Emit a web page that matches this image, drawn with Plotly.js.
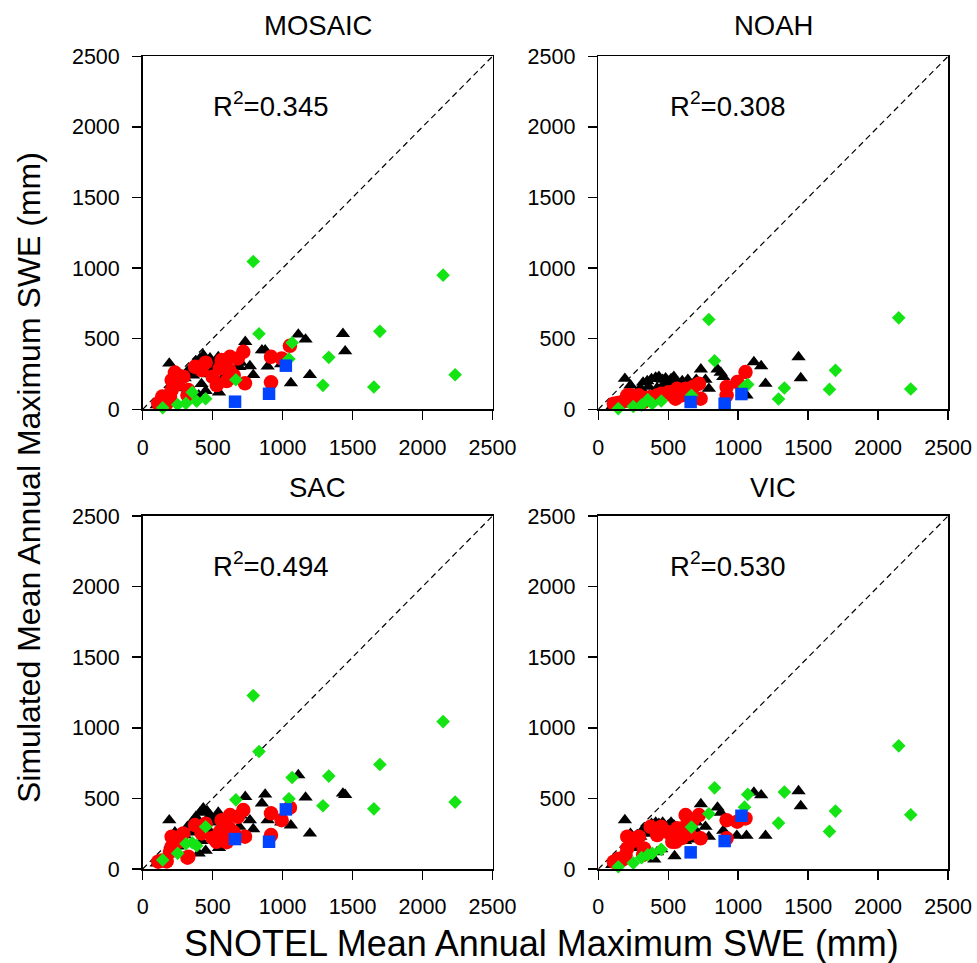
<!DOCTYPE html>
<html>
<head>
<meta charset="utf-8">
<script src="https://cdn.plot.ly/plotly-3.0.1.min.js"></script>
<style>html,body{margin:0;padding:0;background:#fff;}#chart{width:977px;height:963px;}</style>
</head>
<body>
<div id="chart"></div>
<script>
// ---------- DATA ----------
const models = ["MOSAIC", "NOAH", "SAC", "VIC"];
const r2Labels = ["0.345", "0.308", "0.494", "0.530"];
const tickVals = [0, 500, 1000, 1500, 2000, 2500];
const tickText = ["0", "500", "1000", "1500", "2000", "2500"];

// Black triangles: SNOTEL x, simulated y per model
const triX = [1112,1164,1431,1447,1195,1059,852,875,893,990,733,766,790,690,545,400,190,300,350,380,410,433,460,481,500,520,560,600,640,680,250,150,100,420,450,620,700,360,320,470,540,580,230];
const triMOSAIC = [530,495,535,412,243,186,419,419,304,320,478,306,243,301,120,100,325,220,300,340,360,384,340,361,300,330,280,310,260,200,150,60,30,180,130,210,330,240,270,250,370,230,250];
const triNOAH   = [335,306,370,221,181,99,283,260,229,200,283,210,146,190,90,70,217,150,200,215,225,230,210,220,195,215,190,200,210,160,100,50,20,150,110,120,210,160,190,180,230,170,170];
const triSAC    = [665,507,535,525,252,309,465,528,346,330,511,346,283,300,150,110,346,240,330,370,400,430,410,380,330,360,300,320,290,230,160,70,40,200,130,220,380,260,300,280,400,250,260];
const triVIC    = [542,523,552,446,236,236,436,400,271,236,460,300,229,280,92,68,347,230,300,320,330,320,330,300,310,330,290,300,270,210,150,60,30,120,140,200,330,250,280,260,310,250,250];

// Red circles
const redX = [719,624,564,552,620,374,421,290,207,207,195,111,171,326,529,731,917,917,1052,993,500,250,450,680,600,140,320,230,650];
const redMOSAIC = [407,372,349,290,278,301,278,231,207,136,89,42,42,136,172,184,372,191,450,360,230,180,330,360,200,90,100,260,240];
const redNOAH   = [181,146,146,75,122,87,99,99,99,70,60,40,52,80,99,75,158,99,264,193,120,80,110,160,100,45,50,100,110];
const redSAC    = [417,382,346,264,288,311,252,252,229,158,122,52,54,87,193,229,394,240,434,346,220,190,320,370,190,60,80,210,260];
const redVIC    = [382,382,288,193,299,299,240,229,229,146,99,52,64,146,193,217,346,217,358,335,260,200,300,350,220,70,100,210,250];

// Green diamonds
const grnX = [143,250,309,354,386,450,666,790,831,1045,1068,1288,1330,1652,1695,2147,2233];
const grnMOSAIC = [11,33,42,120,57,75,209,1047,535,356,471,170,368,158,552,950,245];
const grnNOAH   = [5,20,30,68,40,59,99,636,344,160,175,73,151,141,276,648,144];
const grnSAC    = [64,111,179,186,165,299,490,1228,832,497,648,448,658,426,740,1044,474];
const grnVIC    = [16,42,80,100,111,139,297,391,575,438,528,325,545,266,410,872,384];

// Blue squares
const bluX = [660,903,1023];
const bluMOSAIC = [54,110,309];
const bluNOAH   = [52,40,108];
const bluSAC    = [212,193,422];
const bluVIC    = [118,198,377];

const oneToOne = [0, 2500];

// ---------- BUILD ----------
const series = {
  MOSAIC: [triMOSAIC, redMOSAIC, grnMOSAIC, bluMOSAIC],
  NOAH:   [triNOAH, redNOAH, grnNOAH, bluNOAH],
  SAC:    [triSAC, redSAC, grnSAC, bluSAC],
  VIC:    [triVIC, redVIC, grnVIC, bluVIC]
};
const groupX = [triX, redX, grnX, bluX];
const groupStyle = [
  {symbol: "triangle-up", size: 12.5, color: "#000000"},
  {symbol: "circle", size: 14.5, color: "#ff0000"},
  {symbol: "diamond", size: 10.5, color: "#14e414"},
  {symbol: "square", size: 12.5, color: "#0044ff"}
];

const FONT = "Liberation Sans, Arial, Helvetica, sans-serif";
const traces = [];
const layout = {
  width: 977, height: 963,
  margin: {l: 0, r: 0, t: 0, b: 0},
  paper_bgcolor: "#ffffff", plot_bgcolor: "#ffffff",
  showlegend: false,
  font: {family: FONT, color: "#000"},
  annotations: []
};

const xDomains = [[142.7/977, 492.5/977], [598.3/977, 948.1/977]];
const yDomains = [[(963-409.3)/963, (963-56.3)/963], [(963-869)/963, (963-516)/963]];

models.forEach((m, i) => {
  const col = i % 2, row = Math.floor(i / 2);
  const sfx = i === 0 ? "" : String(i + 1);
  const xa = "x" + sfx, ya = "y" + sfx;
  // 1:1 line
  traces.push({x: oneToOne, y: oneToOne, xaxis: xa, yaxis: ya, mode: "lines",
    line: {color: "#000", width: 1.2, dash: "6px,4px"}, hoverinfo: "skip"});
  series[m].forEach((ys, g) => {
    traces.push({x: groupX[g], y: ys, xaxis: xa, yaxis: ya, mode: "markers",
      cliponaxis: false,
      marker: {symbol: groupStyle[g].symbol, size: groupStyle[g].size, color: groupStyle[g].color, line: {width: 0}}});
  });
  const axCommon = {
    range: [0, 2500], tickmode: "array", tickvals: tickVals, ticktext: tickText,
    ticks: "outside", ticklen: 9, tickwidth: 1.5, tickcolor: "#000",
    showline: true, linewidth: 1.6, linecolor: "#000", mirror: true,
    showgrid: false, zeroline: false, fixedrange: true,
    tickfont: {family: FONT, size: 21.5, color: "#000"}
  };
  layout["xaxis" + sfx] = Object.assign({}, axCommon, {domain: xDomains[col], anchor: ya, ticklabelstandoff: 9});
  layout["yaxis" + sfx] = Object.assign({}, axCommon, {domain: yDomains[row], anchor: xa, ticklabelstandoff: 8});
  // panel title
  const xc = (xDomains[col][0] + xDomains[col][1]) / 2;
  const titleY = row === 0 ? 1 - 25.5/963 : 1 - 487/963;
  layout.annotations.push({text: m, xref: "paper", yref: "paper", x: xc, y: titleY,
    xanchor: "center", yanchor: "middle", showarrow: false, font: {family: FONT, size: 27.5, color: "#000"}});
  // R^2 label
  layout.annotations.push({text: "R<sup>2</sup>=" + r2Labels[i], xref: xa, yref: ya,
    x: col === 0 ? 490 : 495, y: 2160, xanchor: "left", yanchor: "middle", showarrow: false,
    font: {family: FONT, size: 27.5, color: "#000"}});
});

// axis titles
layout.annotations.push({text: "SNOTEL Mean Annual Maximum SWE (mm)", xref: "paper", yref: "paper",
  x: 541/977, y: -3/963, xanchor: "center", yanchor: "bottom", showarrow: false,
  font: {family: FONT, size: 36, color: "#000"}});
layout.annotations.push({text: "Simulated Mean Annual Maximum SWE (mm)", xref: "paper", yref: "paper",
  x: 29/977, y: 1 - 478/963, xanchor: "center", yanchor: "middle", textangle: -90, showarrow: false,
  font: {family: FONT, size: 32, color: "#000"}});

Plotly.newPlot("chart", traces, layout, {staticPlot: true, displayModeBar: false});
</script>
</body>
</html>
